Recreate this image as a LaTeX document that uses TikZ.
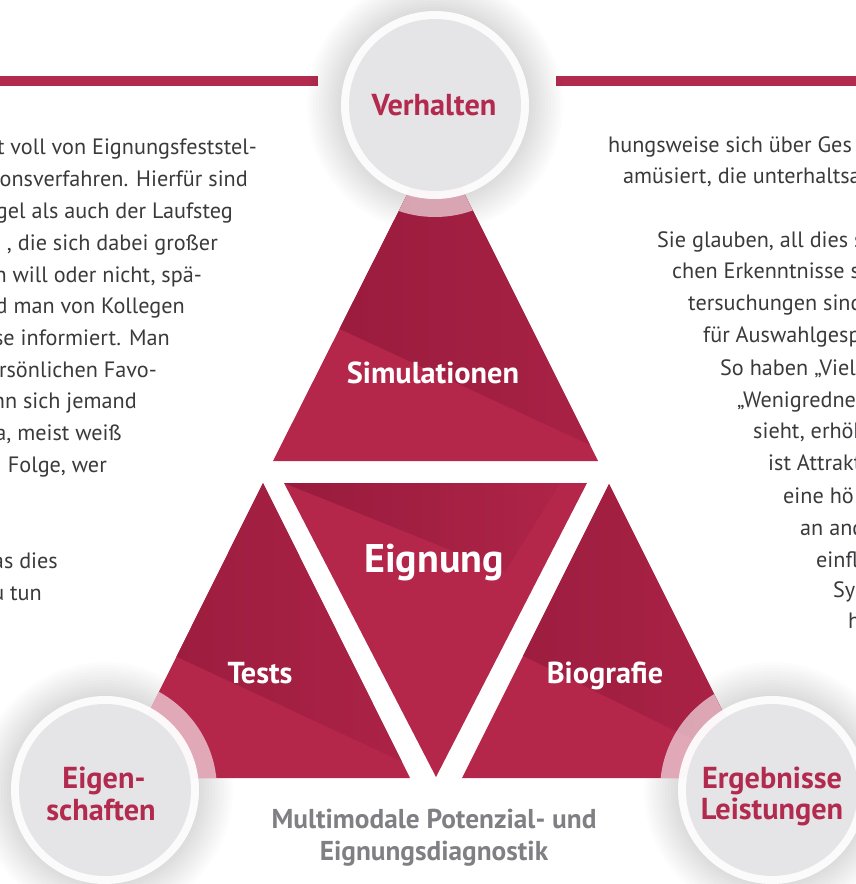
\documentclass[tikz,border=0pt]{standalone}
\usepackage{fontspec}
\setmainfont{PT Sans}
\definecolor{crimL}{HTML}{B5264B}
\definecolor{crimD}{HTML}{981B3D}
\definecolor{crimM}{HTML}{AE2448}
\definecolor{lab}{HTML}{B22A4E}
\definecolor{bodyc}{HTML}{3A3A3C}
\definecolor{capc}{HTML}{808084}
\definecolor{disc}{HTML}{E4E3E6}
\begin{document}
\begin{tikzpicture}[x=1pt,y=-1pt,
  bodytext/.style={font=\fontsize{22.2}{32}\selectfont, text=bodyc, inner sep=0pt},
  leftline/.style={bodytext, anchor=base east},
  rightline/.style={bodytext, anchor=base west},
  trilabel/.style={font=\bfseries\fontsize{30.3}{34}\selectfont, text=white, inner sep=0pt, anchor=base},
  circlabel/.style={font=\bfseries\fontsize{30.3}{34}\selectfont, text=lab, inner sep=0pt, anchor=base},
  caption/.style={font=\bfseries\fontsize{27.3}{32}\selectfont, text=capc, inner sep=0pt, anchor=base},
  bar/.style={fill=lab}]
\useasboundingbox (0,0) rectangle (856,884);
\clip (0,0) rectangle (856,884);

% circle centres
\coordinate (cT) at (435,105);
\coordinate (cL) at (105,790);
\coordinate (cR) at (772,790);

% triangle vertices
\coordinate (TA) at (436,137); \coordinate (TL) at (273,461); \coordinate (TR) at (598,461);
\coordinate (LA) at (263,483); \coordinate (LL) at (116,778); \coordinate (LR) at (410,778);
\coordinate (ML) at (284,483); \coordinate (MR) at (587,483); \coordinate (MB) at (436,777);
\coordinate (RA) at (609,484); \coordinate (RL) at (462,778); \coordinate (RR) at (756,778);

% bars
\fill[bar] (0,76) rectangle (318,86);
\fill[bar] (556,76) rectangle (856,86);

% soft shadows
\foreach \c in {cT,cL,cR}{
  \foreach \r in {95,98,...,128}{
    \fill[black,opacity=0.01] (\c) circle (\r pt);
  }
}

% triangles
\fill[crimL] (TA) -- (TL) -- (TR) -- cycle;
\fill[crimL] (LA) -- (LL) -- (LR) -- cycle;
\fill[crimL] (ML) -- (MR) -- (MB) -- cycle;
\fill[crimL] (RA) -- (RL) -- (RR) -- cycle;

\begin{scope}
  \clip (TA) -- (TL) -- (TR) -- cycle;
  \shade[left color=crimD, right color=crimM] (300,100) -- (700,100) -- (700,496) -- (300,310.5) -- cycle;
\end{scope}
\begin{scope}
  \clip (LA) -- (LL) -- (LR) -- cycle;
  \shade[left color=crimD, right color=crimM] (100,400) -- (450,400) -- (450,784) -- (100,621) -- cycle;
\end{scope}
\begin{scope}
  \clip (RA) -- (RL) -- (RR) -- cycle;
  \shade[left color=crimD, right color=crimM] (440,400) -- (800,400) -- (800,792) -- (440,615) -- cycle;
\end{scope}
\begin{scope}
  \clip (ML) -- (MR) -- (MB) -- cycle;
  \shade[left color=crimD, right color=crimM] (284,483) -- (560,483) -- (505,572) -- cycle;
\end{scope}

% translucent halo over the triangles
\begin{scope}
  \clip (TA) -- (TL) -- (TR) -- cycle (LA) -- (LL) -- (LR) -- cycle (RA) -- (RL) -- (RR) -- cycle;
  \foreach \c in {cT,cL,cR}{
    \fill[white,opacity=0.6] (\c) circle (112pt);
  }
\end{scope}

% rings and discs
\foreach \c in {cT,cL,cR}{
  \fill[white,opacity=0.92] (\c) circle (94pt);
  \fill[disc,opacity=0.93] (\c) circle (86pt);
}

% circle labels
\node[circlabel] (verh) at (434,115) {Verhalten};
\node[circlabel] (eig1) at (104,788) {Eigen-};
\node[circlabel] (eig2) at (101,820) {schaften};
\node[circlabel] (erg1) at (772,788) {Ergebnisse};
\node[circlabel] (erg2) at (772,819) {Leistungen};

% triangle labels
\node[trilabel] (sim) at (433,383) {Simulationen};
\node[trilabel, font=\bfseries\fontsize{40}{44}\selectfont] (eign) at (434,572) {Eignung};
\node[trilabel] (tests) at (260,683) {Tests};
\node[trilabel] (bio) at (605,683) {Biografie};

% caption
\node[caption] (cap1) at (434,828) {Multimodale Potenzial- und};
\node[caption] (cap2) at (434,860) {Eignungsdiagnostik};

% left column text
\node[leftline] (l1) at (257,154) {t voll von Eignungsfeststel-};
\node[leftline] (l2) at (248,186) {onsverfahren. Hierfür sind};
\node[leftline] (l3) at (233,218) {gel als auch der Laufsteg};
\node[leftline] (l4) at (218,250) {, die sich dabei großer};
\node[leftline] (l5) at (202,282) {an will oder nicht, spä-};
\node[leftline] (l6) at (185,313) {rd man von Kollegen};
\node[leftline] (l7) at (170,345) {se informiert. Man};
\node[leftline] (l8) at (157,377) {ersönlichen Favo-};
\node[leftline] (l9) at (137,408) {nn sich jemand};
\node[leftline] (l10) at (122,440) {Ja, meist weiß};
\node[leftline] (l11) at (107,472) {Folge, wer};
\node[leftline] (l12) at (58,568) {as dies};
\node[leftline] (l13) at (42,600) {u tun};

% right column text
\node[rightline] (r1) at (608,152) {hungsweise sich über Ges};
\node[rightline] (r2) at (623,183) {amüsiert, die unterhaltsa};
\node[rightline] (r3) at (657,247) {Sie glauben, all dies s};
\node[rightline] (r4) at (672,278) {chen Erkenntnisse sp};
\node[rightline] (r5) at (688,310) {tersuchungen sind};
\node[rightline] (r6) at (703,342) {für Auswahlgesp};
\node[rightline] (r7) at (720,375) {So haben „Viel};
\node[rightline] (r8) at (737,407) {„Wenigredne};
\node[rightline] (r9) at (753,438) {sieht, erhöh};
\node[rightline] (r10) at (768,470) {ist Attrakt};
\node[rightline] (r11) at (783,503) {eine hö};
\node[rightline] (r12) at (800,535) {an and};
\node[rightline] (r13) at (816,567) {einfl};
\node[rightline] (r14) at (833,597) {Sym};
\node[rightline] (r15) at (848,628) {h};
\end{tikzpicture}
\end{document}
